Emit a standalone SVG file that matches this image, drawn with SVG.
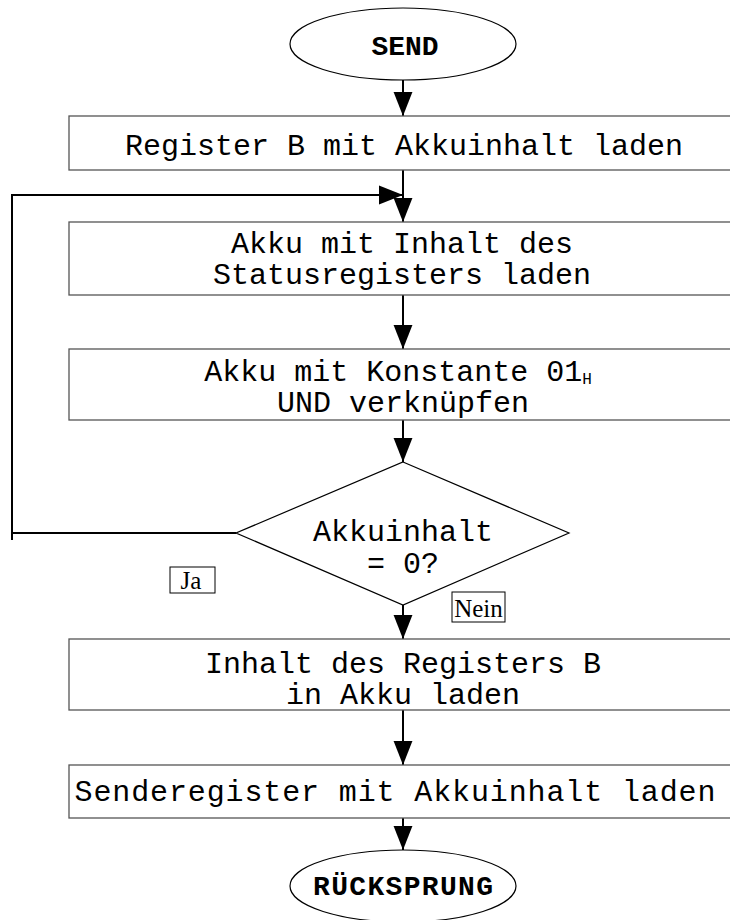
<svg xmlns="http://www.w3.org/2000/svg" width="730" height="920" viewBox="0 0 730 920">
<style>
.box{fill:#fff;stroke:#555;stroke-width:1.3}
.term{fill:#fff;stroke:#000;stroke-width:1.2}
.t{font-family:"Liberation Mono","Courier New",monospace;font-size:30px;fill:#000;text-anchor:middle}
.b{font-family:"Liberation Mono","Courier New",monospace;font-size:28px;font-weight:bold;fill:#000;text-anchor:middle}
.lbl{font-family:"Liberation Serif","Times New Roman",serif;font-size:25px;fill:#000;text-anchor:middle}
.lb{fill:#fff;stroke:#000;stroke-width:1}
.c{fill:none;stroke:#000;stroke-width:2}
</style>
<defs>
<marker id="ah" markerUnits="userSpaceOnUse" markerWidth="24" markerHeight="30" refX="28" refY="11" orient="auto" viewBox="0 0 28 22">
<path d="M0,0 L28,11 L0,22 Z" fill="#000"/>
</marker>
</defs>
<g id="connectors">
<line class="c" x1="403" y1="80" x2="403" y2="116" marker-end="url(#ah)"/>
<line class="c" x1="403" y1="170" x2="403" y2="222" marker-end="url(#ah)"/>
<polyline class="c" points="236,533 12,533 12,195 403,195" marker-end="url(#ah)"/>
<line class="c" x1="12" y1="533" x2="12" y2="540"/>
<line class="c" x1="403" y1="295" x2="403" y2="349" marker-end="url(#ah)"/>
<line class="c" x1="403" y1="420" x2="403" y2="462" marker-end="url(#ah)"/>
<line class="c" x1="403" y1="605" x2="403" y2="639" marker-end="url(#ah)"/>
<line class="c" x1="403" y1="710" x2="403" y2="765" marker-end="url(#ah)"/>
<line class="c" x1="403" y1="818" x2="403" y2="850" marker-end="url(#ah)"/>
</g>
<g id="send">
<ellipse class="term" cx="403" cy="44" rx="113" ry="36"/>
<text class="b" x="405" y="55">SEND</text>
</g>
<g id="box1">
<rect class="box" x="69" y="116" width="680" height="54"/>
<text class="t" x="404" y="155">Register B mit Akkuinhalt laden</text>
</g>
<g id="box2">
<rect class="box" x="69" y="222" width="680" height="73"/>
<text class="t" x="402" y="253">Akku mit Inhalt des</text>
<text class="t" x="402" y="284">Statusregisters laden</text>
</g>
<g id="box3">
<rect class="box" x="69" y="349" width="680" height="71"/>
<text class="t" x="398" y="381">Akku mit Konstante 01<tspan font-size="16" dy="3">H</tspan></text>
<text class="t" x="403" y="412">UND verknüpfen</text>
</g>
<g id="decision">
<polygon class="term" points="403,462 569,533 403,605 236,533"/>
<text class="t" x="403" y="541">Akkuinhalt</text>
<text class="t" x="403" y="573">= 0?</text>
</g>
<g id="ja">
<rect class="lb" x="170" y="567" width="45" height="26"/>
<text class="lbl" x="191" y="589">Ja</text>
</g>
<g id="nein">
<rect class="lb" x="452" y="592" width="53" height="30"/>
<text class="lbl" x="478.5" y="617">Nein</text>
</g>
<g id="box4">
<rect class="box" x="69" y="639" width="680" height="71"/>
<text class="t" x="403" y="673">Inhalt des Registers B</text>
<text class="t" x="403" y="704">in Akku laden</text>
</g>
<g id="box5">
<rect class="box" x="69" y="765" width="680" height="53"/>
<text class="t" x="395" y="801" textLength="641" lengthAdjust="spacing">Senderegister mit Akkuinhalt laden</text>
</g>
<g id="ruecksprung">
<ellipse class="term" cx="403" cy="886" rx="113" ry="36"/>
<text class="b" x="403" y="895" textLength="180" lengthAdjust="spacing">RÜCKSPRUNG</text>
</g>
</svg>
